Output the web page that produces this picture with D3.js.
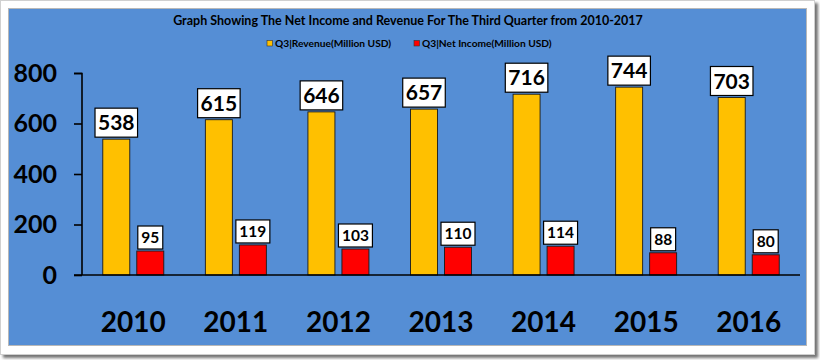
<!DOCTYPE html>
<html><head><meta charset="utf-8">
<script src="https://cdn.jsdelivr.net/npm/d3@7"></script>
<style>html,body{margin:0;padding:0;background:#fff;}svg{display:block;font-family:Lato,"Open Sans",sans-serif;}</style>
</head><body>
<svg id="c" width="820" height="360"></svg>
<script>
const years = ["2010","2011","2012","2013","2014","2015","2016"];
const revenue = [538,615,646,657,716,744,703];
const netIncome = [95,119,103,110,114,88,80];
const yTicks = [0,200,400,600,800];
const seriesNames = ["Q3|Revenue(Million USD)","Q3|Net Income(Million  USD)"];
const colors = ["#FFC000","#FF0000"];
const titleText = "Graph Showing The Net Income and Revenue For The Third Quarter from 2010-2017";

const svg = d3.select("#c");
const defs = svg.append("defs");
const f = defs.append("filter").attr("id","sh").attr("x","-5%").attr("y","-5%").attr("width","115%").attr("height","115%");
f.append("feDropShadow").attr("dx",3).attr("dy",3).attr("stdDeviation",1.5).attr("flood-color","#000").attr("flood-opacity",0.55);

// outer frame
svg.append("rect").attr("x",0.5).attr("y",0.5).attr("width",814).attr("height",354)
  .attr("fill","#fff").attr("stroke","#d0d0d0").attr("filter","url(#sh)");
// blue chart area
svg.append("rect").attr("x",8.5).attr("y",8.5).attr("width",798).attr("height",337)
  .attr("fill","#558ED5").attr("stroke","#b8b8b8");

// title
svg.append("text").attr("x",408).attr("y",25).attr("text-anchor","middle")
  .attr("font-size",12.5).attr("font-weight","bold").attr("fill","#000").text(titleText);

// legend
const legX = [267, 414];
seriesNames.forEach((n,i)=>{
  svg.append("rect").attr("x",legX[i]).attr("y",40.5).attr("width",5.5).attr("height",5.5)
    .attr("fill",colors[i]).attr("stroke","#333").attr("stroke-width",0.6);
  svg.append("text").attr("x",legX[i]+8).attr("y",46.5).attr("font-size",10.2).attr("font-weight","bold")
    .attr("fill","#000").text(n);
});

const x = d3.scaleBand().domain(years).range([82,800]).padding(0);
const y = d3.scaleLinear().domain([0,800]).range([275,73]);
const bw = 27, gap = 7;

// y axis
const yAxis = svg.append("g").attr("transform","translate(82,0)")
  .call(d3.axisLeft(y).tickValues(yTicks).tickSize(8).tickPadding(17).tickFormat(d3.format("d")));
yAxis.select(".domain").attr("stroke","#000").attr("stroke-width",1.6).attr("d","M-8,73.5H0V275");
yAxis.selectAll(".tick line").attr("stroke","#000").attr("stroke-width",1.6);
yAxis.selectAll(".tick text").attr("font-size",25).attr("font-weight","bold").attr("fill","#000")
  .attr("font-family","Lato,sans-serif");

// bars
years.forEach((yr,i)=>{
  const cx = x(yr) + x.bandwidth()/2;
  const vals = [revenue[i], netIncome[i]];
  vals.forEach((v,k)=>{
    const bx = k===0 ? cx - gap/2 - bw : cx + gap/2;
    svg.append("rect").attr("x",bx).attr("y",y(v)).attr("width",bw).attr("height",y(0)-y(v))
      .attr("fill",colors[k]).attr("stroke","#1a1a1a").attr("stroke-width",0.9);
    const fs = k===0 ? 21 : 15.5;
    const bh = k===0 ? 29 : 23;
    const t = svg.append("text").attr("x",bx+bw/2).attr("y",y(v)-2-bh/2).attr("dy","0.36em")
      .attr("text-anchor","middle").attr("font-size",fs).attr("font-weight","bold").attr("fill","#000")
      .text(v);
    const w = t.node().getComputedTextLength() + (k===0?6:7);
    svg.insert("rect", function(){return t.node();}).attr("x",bx+bw/2-w/2).attr("y",y(v)-2-bh)
      .attr("width",w).attr("height",bh).attr("fill","#fff").attr("stroke","#000").attr("stroke-width",1.2);
  });
});

// x axis
const xAxis = svg.append("g").attr("transform","translate(0,275)")
  .call(d3.axisBottom(x).tickSize(0).tickPadding(38));
xAxis.select(".domain").attr("stroke","#000").attr("stroke-width",1.6).attr("d","M74,0H800");
xAxis.selectAll(".tick text").attr("font-size",28).attr("font-weight","bold").attr("fill","#000")
  .attr("font-family","Lato,sans-serif").attr("dy","0").attr("y",57);
</script>
</body></html>
